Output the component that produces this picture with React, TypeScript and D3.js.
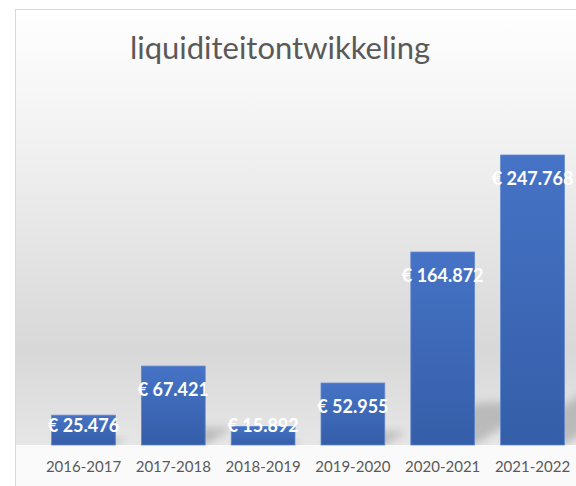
import React from "react";
import * as d3 from "d3";

const categories = ["2016-2017", "2017-2018", "2018-2019", "2019-2020", "2020-2021", "2021-2022"];
const values = [25476, 67421, 15892, 52955, 164872, 247768];
const title = "liquiditeitontwikkeling";

const W = 576;
const H = 486;
const baseY = 445;
const topY = 152.4;

const nl = d3.formatLocale({ decimal: ",", thousands: ".", grouping: [3], currency: ["€ ", ""] });
const fmt = nl.format("$,.0f");

export default function App() {
  const x = d3.scaleBand<string>().domain(categories).range([38.6, 577.4]).paddingInner(0.29).paddingOuter(0.145);
  const y = d3.scaleLinear().domain([0, 250000]).range([baseY, topY]);
  const font = "Lato, 'Open Sans', sans-serif";

  return (
    <svg width={W} height={H} style={{ position: "absolute", left: 0, top: 0 }} xmlns="http://www.w3.org/2000/svg">
      <defs>
        <linearGradient id="bg" x1="0" y1="9" x2="0" y2={baseY} gradientUnits="userSpaceOnUse">
          <stop offset="0" stopColor="#ffffff" />
          <stop offset="0.25" stopColor="#f4f4f4" />
          <stop offset="0.78" stopColor="#d8d8d8" />
          <stop offset="1" stopColor="#e6e6e6" />
        </linearGradient>
        <linearGradient id="bar" x1="0" y1="0" x2="0" y2="1">
          <stop offset="0" stopColor="#4673c6" />
          <stop offset="1" stopColor="#355ea8" />
        </linearGradient>
        <filter id="blur" x="-50%" y="-50%" width="200%" height="200%">
          <feGaussianBlur stdDeviation="4" />
        </filter>
      </defs>
      <rect x={0} y={0} width={W} height={H} fill="#ffffff" />
      <rect x={15.5} y={9.5} width={W} height={H} fill="#fafafa" stroke="#d9d9d9" />
      <rect x={16} y={10} width={W} height={baseY - 10} fill="url(#bg)" />
      <g clipPath="">
        {categories.map((c, i) => {
          const x0 = x(c)!;
          const x1 = x0 + x.bandwidth();
          const h = baseY - y(values[i]);
          const k = 0.35;
          const s = 0.22;
          const pts = [
            [x0, baseY],
            [x1, baseY],
            [x1 + k * h, baseY - s * h],
            [x0 + k * h, baseY - s * h],
          ];
          return (
            <polygon key={"s" + c} points={pts.map((p) => p.join(",")).join(" ")} fill="#8a8a8a" opacity={0.45} filter="url(#blur)" />
          );
        })}
      </g>
      <rect x={16} y={baseY} width={W} height={H - baseY} fill="#fafafa" />
      {categories.map((c, i) => (
        <rect
          key={"b" + c}
          x={x(c)}
          y={y(values[i])}
          width={x.bandwidth()}
          height={baseY - y(values[i])}
          fill="url(#bar)"
          stroke="#5f86cf"
          strokeWidth={0.8}
        />
      ))}
      {categories.map((c, i) => {
        const cx = x(c)! + x.bandwidth() / 2;
        const ly = Math.min(y(values[i]) + 24, baseY - 19);
        return (
          <text
            key={"v" + c}
            x={cx}
            y={ly}
            dy="0.35em"
            textAnchor="middle"
            fill="#ffffff"
            fontFamily={font}
            fontWeight="bold"
            fontSize={18}
          >
            {fmt(values[i])}
          </text>
        );
      })}
      {categories.map((c) => (
        <text
          key={"c" + c}
          x={x(c)! + x.bandwidth() / 2}
          y={467}
          dy="0.35em"
          textAnchor="middle"
          fill="#595959"
          fontFamily={font}
          fontSize={15}
        >
          {c}
        </text>
      ))}
      <text x={280} y={59} textAnchor="middle" fill="#595959" fontFamily={font} fontSize={31}>
        {title}
      </text>
    </svg>
  );
}
